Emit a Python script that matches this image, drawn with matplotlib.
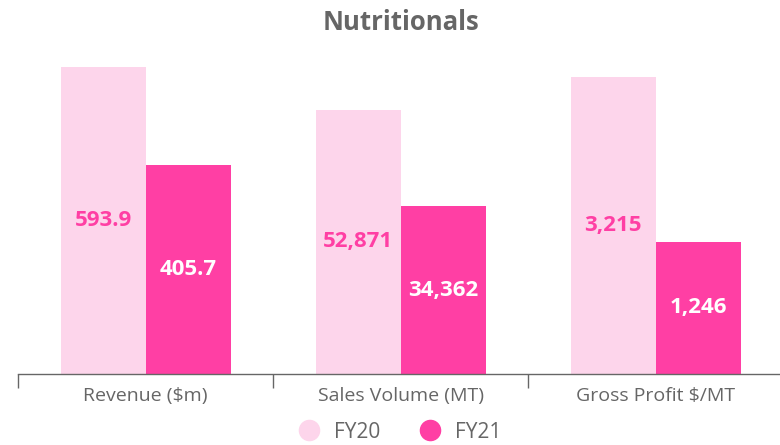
import matplotlib
matplotlib.use("Agg")
import matplotlib.pyplot as plt
from matplotlib.lines import Line2D
import numpy as np

categories = ["Revenue ($m)", "Sales Volume (MT)", "Gross Profit $/MT"]
series = ["FY20", "FY21"]
# bar heights (share of plot height, %)
fy20_height = [82.1, 70.6, 79.4]
fy21_height = [55.9, 44.9, 35.3]
fy20_labels = ["593.9", "52,871", "3,215"]
fy21_labels = ["405.7", "34,362", "1,246"]

c20 = "#fdd5eb"
c21 = "#ff3fa4"
grey = "#666666"

plt.rcParams['font.family'] = ['Open Sans', 'DejaVu Sans']

W, H = 780, 445
fig = plt.figure(figsize=(W/100, H/100), dpi=100)
ax = fig.add_axes([18/W, 71/H, 765/W, 374/H])

x = np.arange(len(categories))
bw = 85/255
b1 = ax.bar(x - bw/2, fy20_height, bw, color=c20, zorder=2)
b2 = ax.bar(x + bw/2, fy21_height, bw, color=c21, zorder=2)

for rect, lab in zip(b1, fy20_labels):
    ax.text(rect.get_x() + rect.get_width()/2, rect.get_height()/2, lab,
            ha='center', va='center', color=c21, fontsize=16, fontweight='bold')
for rect, lab in zip(b2, fy21_labels):
    ax.text(rect.get_x() + rect.get_width()/2, rect.get_height()/2, lab,
            ha='center', va='center', color='white', fontsize=16, fontweight='bold')

ax.set_xlim(-0.5, 2.5)
ax.set_ylim(0, 100)
for s in ['top', 'right', 'left']:
    ax.spines[s].set_visible(False)
ax.spines['bottom'].set_color(grey)
ax.spines['bottom'].set_linewidth(1.0)
ax.set_yticks([])
ax.set_xticks([-0.5, 0.5, 1.5, 2.5])
ax.set_xticklabels([])
ax.tick_params(axis='x', length=10, width=1, color=grey)
ax.set_xticks(x, minor=True)
ax.set_xticklabels(categories, minor=True)
ax.tick_params(axis='x', which='minor', length=0, pad=9, labelsize=14, labelcolor=grey)

fig.text(401/W, 1 - 22/H, "Nutritionals", ha='center', va='center',
         fontsize=18.5, fontweight='bold', color=grey)

handles = [Line2D([], [], marker='o', linestyle='none', markersize=14.5,
                  markerfacecolor=c, markeredgecolor=c) for c in (c20, c21)]
leg = fig.legend(handles, series, loc='center', bbox_to_anchor=(400/W, 1 - 432/H),
                 ncol=2, frameon=False, fontsize=15, handlelength=1.0,
                 handletextpad=0.7, columnspacing=1.9, labelcolor=grey,
                 borderpad=0, borderaxespad=0)

fig.savefig("out.png", dpi=100)
